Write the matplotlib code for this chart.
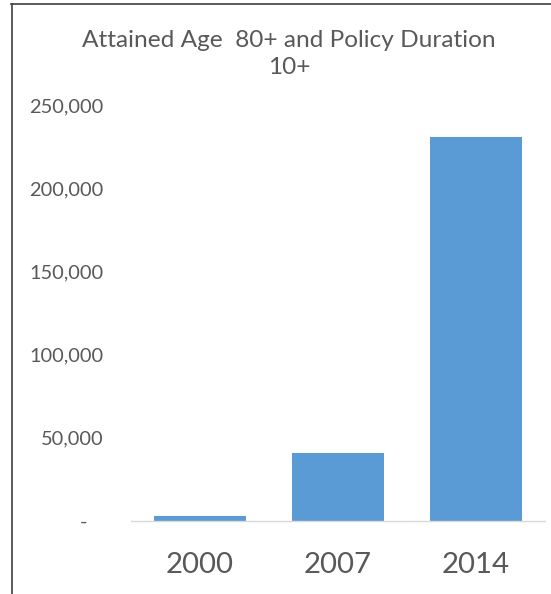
import matplotlib
matplotlib.use("Agg")
import matplotlib.pyplot as plt
from matplotlib.lines import Line2D
from matplotlib.ticker import FuncFormatter

categories = ["2000", "2007", "2014"]
values = [3000, 41000, 231000]
yticks = [0, 50000, 100000, 150000, 200000, 250000]
title_lines = ["Attained Age  80+ and Policy Duration", "10+"]

W, H = 551, 594
TXT = "#595959"
plt.rcParams['font.family'] = ['Lato', 'DejaVu Sans']
fig = plt.figure(figsize=(W / 100, H / 100), dpi=100)
fig.patch.set_facecolor("white")
renderer = fig.canvas.get_renderer()


def fit_size(text, target_px, size0=12):
    t = fig.text(0, 0, text, fontsize=size0)
    w = t.get_window_extent(renderer).width
    t.remove()
    return size0 * target_px / w


title_fs = fit_size(title_lines[0], 412)
ylab_fs = fit_size("250,000", 74)
xlab_fs = fit_size("2000", 68)

bottom_px, top_px = 521, 105
ax = fig.add_axes([131 / W, (H - bottom_px) / H, 414 / W, (bottom_px - top_px) / H])
x = list(range(len(categories)))
ax.bar(x, values, width=0.67, color="#5B9BD5", zorder=2)
ax.set_xlim(-0.5, len(categories) - 0.5)
ax.set_ylim(0, 250000)
ax.set_yticks(yticks)
ax.yaxis.set_major_formatter(FuncFormatter(lambda v, p: "-   " if v == 0 else f"{int(v):,}"))
ax.set_xticks(x)
ax.set_xticklabels(categories)

for s in ["top", "right", "left"]:
    ax.spines[s].set_visible(False)
ax.spines["bottom"].set_color("#D9D9D9")
ax.spines["bottom"].set_linewidth(1)
ax.tick_params(axis="y", length=0, pad=(131 - 103) * 0.72, labelsize=ylab_fs, labelcolor=TXT)
ax.tick_params(axis="x", length=0, pad=(573 - bottom_px) * 0.72, labelsize=xlab_fs, labelcolor=TXT)
for lab in ax.get_xticklabels():
    lab.set_verticalalignment("baseline")

fig.text(289 / W, 1 - 47 / H, title_lines[0], ha="center", va="baseline",
         fontsize=title_fs, color=TXT)
fig.text(289 / W, 1 - 74 / H, title_lines[1], ha="center", va="baseline",
         fontsize=title_fs, color=TXT)

# outer frame lines (top and left)
fig.add_artist(Line2D([11 / W, 1], [1 - 4 / H, 1 - 4 / H], transform=fig.transFigure,
                      color="#404040", linewidth=1.2))
fig.add_artist(Line2D([12 / W, 12 / W], [0, 1 - 4 / H], transform=fig.transFigure,
                      color="#404040", linewidth=1.2))

fig.savefig("out.png", dpi=100, facecolor="white")
